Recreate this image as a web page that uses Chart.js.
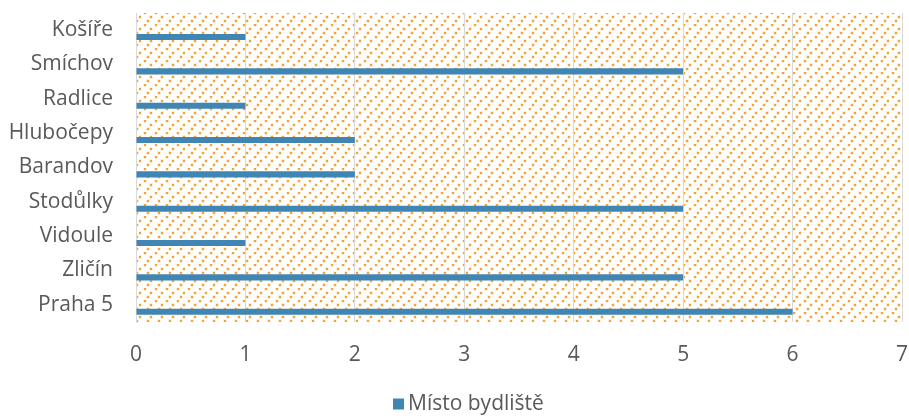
<!DOCTYPE html>
<html>
<head>
<meta charset="utf-8">
<script src="https://cdn.jsdelivr.net/npm/chart.js@4/dist/chart.umd.min.js"></script>
<style>
  html, body { margin: 0; padding: 0; background: #ffffff; }
  #wrap { width: 909px; height: 416px; position: relative; }
</style>
</head>
<body>
<div id="wrap"><canvas id="chart"></canvas></div>
<script>
// Districts, listed top to bottom
const categories = ['Košíře', 'Smíchov', 'Radlice', 'Hlubočepy', 'Barandov', 'Stodůlky', 'Vidoule', 'Zličín', 'Praha 5'];
// Number of respondents living in each district
const residents = [1, 5, 1, 2, 2, 5, 1, 5, 6];
const seriesName = 'Místo bydliště';
const xMin = 0;
const xMax = 7;

const textColor = '#595959';
const barColor = '#3f86b4';
const fontFamily = '"Open Sans", "Noto Sans", sans-serif';
const fontSize = 21;

// Dotted orange fill behind the plot area
function makeDotPattern(ctx) {
  const tile = document.createElement('canvas');
  tile.width = 22;
  tile.height = 12;
  const t = tile.getContext('2d');
  const dots = [[1, 0], [12, 0], [7, 4], [18, 4], [4, 8], [15, 8]];
  for (const [x, y] of dots) {
    t.fillStyle = 'rgba(250, 195, 120, 0.6)';
    t.fillRect(x - 0.5, y - 0.5, 3, 3);
    t.fillStyle = '#f5a234';
    t.fillRect(x, y, 2, 2);
  }
  return ctx.createPattern(tile, 'repeat');
}

const plotBackground = {
  id: 'plotBackground',
  beforeDraw(chart) {
    const { ctx, chartArea } = chart;
    ctx.save();
    ctx.fillStyle = makeDotPattern(ctx);
    ctx.fillRect(chartArea.left, chartArea.top, chartArea.right - chartArea.left, chartArea.bottom - chartArea.top);
    ctx.restore();
  }
};

// Single-entry legend under the axis: square swatch followed by the series name
const seriesLegend = {
  id: 'seriesLegend',
  afterDraw(chart) {
    const { ctx } = chart;
    const ds = chart.data.datasets[1];
    const cy = 404;
    const boxX = 393;
    const boxSize = 11;
    ctx.save();
    ctx.fillStyle = ds.backgroundColor;
    ctx.fillRect(boxX, cy - boxSize / 2, boxSize, boxSize);
    ctx.fillStyle = textColor;
    ctx.font = `${fontSize}px ${fontFamily}`;
    ctx.textAlign = 'left';
    ctx.textBaseline = 'middle';
    ctx.fillText(ds.label, boxX + boxSize + 4, cy);
    ctx.restore();
  }
};

new Chart(document.getElementById('chart'), {
  type: 'bar',
  plugins: [plotBackground, seriesLegend],
  data: {
    labels: categories,
    datasets: [
      {
        // empty slot that keeps the series bar in the lower half of each row
        label: '',
        data: categories.map(() => null),
        backgroundColor: 'rgba(0,0,0,0)'
      },
      {
        label: seriesName,
        data: residents,
        backgroundColor: barColor,
        borderWidth: 0
      }
    ]
  },
  options: {
    indexAxis: 'y',
    responsive: true,
    maintainAspectRatio: false,
    animation: false,
    categoryPercentage: 0.8,
    barPercentage: 0.44,
    layout: { padding: { top: 13, right: 7, left: 0, bottom: 24 } },
    scales: {
      x: {
        min: xMin,
        max: xMax,
        ticks: {
          stepSize: 1,
          color: textColor,
          padding: 0,
          font: { family: fontFamily, size: fontSize }
        },
        grid: { color: '#d9d9d9', lineWidth: 1, drawTicks: true, tickLength: 20, tickColor: 'rgba(0,0,0,0)' },
        border: { display: false },
        afterFit(scale) { scale.height = 70; }
      },
      y: {
        ticks: {
          color: textColor,
          padding: 0,
          font: { family: fontFamily, size: fontSize }
        },
        grid: { display: true, drawOnChartArea: false, drawTicks: true, tickLength: 23, tickColor: 'rgba(0,0,0,0)' },
        border: { display: true, color: '#d9d9d9', width: 1 },
        afterFit(scale) { scale.width = 136; }
      }
    },
    plugins: {
      legend: { display: false },
      tooltip: { enabled: false }
    }
  }
});
</script>
</body>
</html>
